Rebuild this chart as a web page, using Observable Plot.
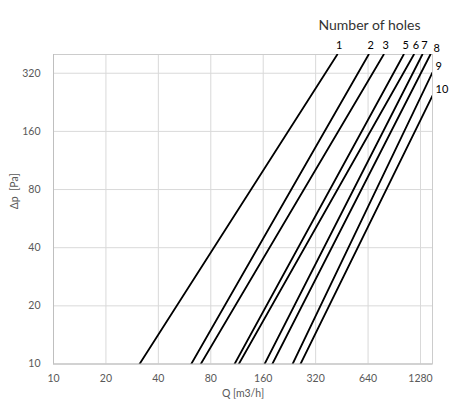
<!DOCTYPE html>
<html>
<head>
<meta charset="utf-8">
<script src="https://cdn.jsdelivr.net/npm/d3@7"></script>
<script src="https://cdn.jsdelivr.net/npm/@observablehq/plot@0.6"></script>
<style>
  html, body { margin: 0; padding: 0; background: #fff; }
  #chart { width: 451px; height: 402px; }
</style>
</head>
<body>
<div id="chart"></div>
<script>
// Number of holes (series)
const holes = [1, 2, 3, 5, 6, 7, 8, 9, 10];
// Flow Q [m3/h] at Δp = 10 Pa (start of each line)
const qStart = [31.2, 61.8, 70.1, 109.6, 115.9, 163, 180.5, 236, 262];
const dpStart = [10, 10, 10, 10, 10, 10, 10, 10, 10];
// End of each line (Q [m3/h], Δp [Pa])
const qEnd = [426, 645, 787, 1025, 1173, 1312, 1459, 1500, 1500];
const dpEnd = [400, 400, 400, 400, 400, 400, 400, 323, 245];
// Axis ticks
const xTicks = [10, 20, 40, 80, 160, 320, 640, 1280];
const yTicks = [10, 20, 40, 80, 160, 320];
const xDomain = [10, 1500];
const yDomain = [10, 400];

const lineData = holes.flatMap((h, i) => [
  {holes: h, q: qStart[i], dp: dpStart[i]},
  {holes: h, q: qEnd[i], dp: dpEnd[i]}
]);
const ends = holes.map((h, i) => ({holes: h, q: qEnd[i], dp: dpEnd[i]}));
const topEnds = ends.filter(d => d.dp >= 400 && d.q < 1400);
const sideEnds = ends.filter(d => !(d.dp >= 400 && d.q < 1400));

const font = "Lato, 'Open Sans', sans-serif";
const tickColor = "#595959";

const chart = Plot.plot({
  width: 451,
  height: 402,
  marginTop: 54,
  marginBottom: 38.5,
  marginLeft: 53,
  marginRight: 19,
  style: {fontFamily: font, fontSize: "10px", color: tickColor, background: "#fff"},
  x: {type: "log", domain: xDomain, axis: null},
  y: {type: "log", domain: yDomain, axis: null},
  marks: [
    Plot.ruleX(xTicks.filter(d => d > xDomain[0]), {x: d => d, stroke: "#d9d9d9"}),
    Plot.ruleY(yTicks.filter(d => d > yDomain[0]), {y: d => d, stroke: "#d9d9d9"}),
    Plot.frame({stroke: "#cccccc"}),
    Plot.ruleX([xDomain[0]], {stroke: "#bfbfbf"}),
    Plot.ruleY([yDomain[0]], {stroke: "#bfbfbf"}),
    // tick labels
    Plot.text(xTicks, {x: d => d, text: d => String(d), frameAnchor: "bottom", dy: 17.5, fill: tickColor, fontSize: 10.5}),
    Plot.text(yTicks, {y: d => d, text: d => String(d), frameAnchor: "left", dx: -13, textAnchor: "end", fill: tickColor, fontSize: 10.5}),
    // axis titles
    Plot.text(["Q [m3/h]"], {text: d => d, frameAnchor: "bottom", dy: 32.5, fill: tickColor, fontSize: 10.5}),
    Plot.text(["Δp  [Pa]"], {text: d => d, frameAnchor: "left", dx: -39, rotate: -90, fill: tickColor, fontSize: 10.5}),
    // curves
    Plot.line(lineData, {x: "q", y: "dp", z: "holes", stroke: "#000", strokeWidth: 1.8, clip: true}),
    Plot.text(topEnds, {x: "q", y: "dp", text: d => String(d.holes), dx: 2, dy: -9, fill: "#000", fontSize: 11, textAnchor: "middle"}),
    Plot.text(sideEnds, {x: "q", y: "dp", text: d => String(d.holes), dx: 3, dy: -6, fill: "#000", fontSize: 11, textAnchor: "start"}),
    Plot.text(["Number of holes"], {frameAnchor: "top-right", text: d => d, dx: -12, dy: -34, fontSize: 14, fill: "#333", textAnchor: "end"})
  ]
});
document.getElementById("chart").appendChild(chart);
</script>
</body>
</html>
